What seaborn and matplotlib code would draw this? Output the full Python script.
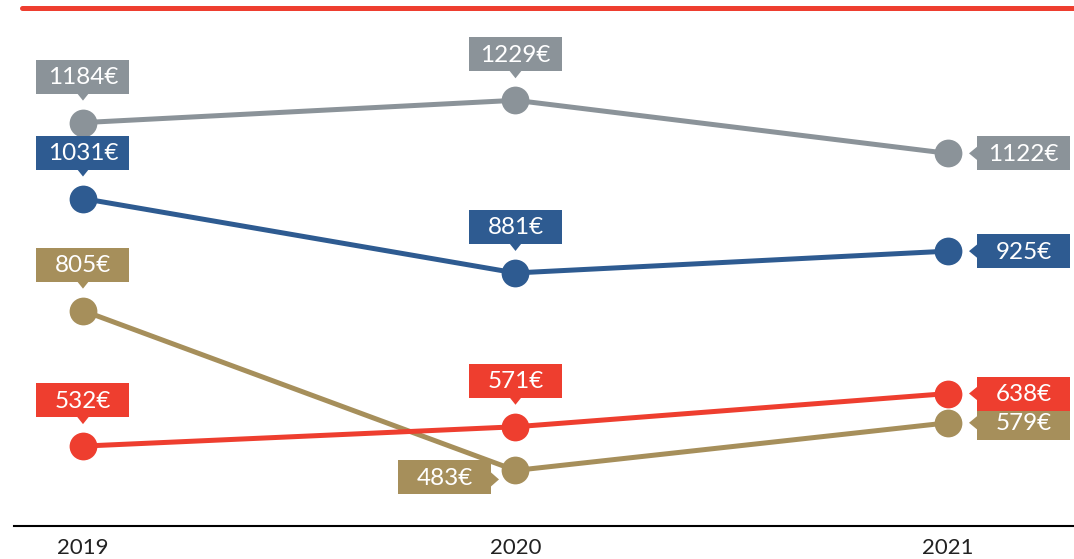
import matplotlib
matplotlib.use("Agg")
import matplotlib.pyplot as plt
import matplotlib.transforms as mtransforms
from matplotlib.patches import Rectangle, Polygon
from matplotlib.lines import Line2D
import seaborn as sns
import pandas as pd

# ---- data ----
years = ["2019", "2020", "2021"]
series_names = ["gray", "blue", "tan", "red"]
gray_values = [1184, 1229, 1122]
blue_values = [1031, 881, 925]
tan_values = [805, 483, 579]
red_values = [532, 571, 638]

colors = {"gray": "#8b9399", "blue": "#2e5b91", "tan": "#a68f5b", "red": "#ee3e2f"}
placements = {
    "gray": ["top", "top", "right"],
    "blue": ["top", "top", "right"],
    "tan": ["top", "left", "right"],
    "red": ["top", "top", "right"],
}

values = {"gray": gray_values, "blue": blue_values, "tan": tan_values, "red": red_values}
rows = []
for s in series_names:
    for y, v in zip(years, values[s]):
        rows.append({"year": y, "value": v, "series": s})
df = pd.DataFrame(rows)

sns.set_theme(style="white")
plt.rcParams["font.family"] = ["Lato", "DejaVu Sans"]

W, H = 1074, 559
fig = plt.figure(figsize=(W / 100, H / 100), dpi=100)
ax = fig.add_axes([14 / W, (H - 526) / H, 1 - 14 / W, (526 - 7.5) / H])

sns.lineplot(data=df, x="year", y="value", hue="series", hue_order=series_names,
             palette=colors, marker="o", markersize=20, markeredgewidth=0,
             linewidth=3.6, legend=False, ax=ax, sort=False)

ax.set_xlim(-0.1595, 2.2913)
ax.set_ylim(371, 1416)
ax.set_yticks([])
ax.set_xlabel("")
ax.set_ylabel("")
for sp in ["top", "left", "right"]:
    ax.spines[sp].set_visible(False)
ax.spines["bottom"].set_color("black")
ax.spines["bottom"].set_linewidth(1.5)
ax.tick_params(axis="x", length=0, pad=9, labelsize=16, labelcolor="#222222")
ax.set_xticks(range(len(years)))
ax.set_xticklabels(years)

# decorative red header line
fig.add_artist(Line2D([22 / W, 1.0], [1 - 7.5 / H, 1 - 7.5 / H],
                      transform=fig.transFigure, color=colors["red"], lw=3.6))

BW, BH = 0.93, 0.34  # box size in inches (px/100)

for s in series_names:
    for i, (v, place) in enumerate(zip(values[s], placements[s])):
        trans = fig.dpi_scale_trans + mtransforms.ScaledTranslation(i, v, ax.transData)
        c = colors[s]
        if place == "top":
            x0, y0 = -BW / 2, 0.29
            tri = [(-0.06, 0.295), (0.06, 0.295), (0.0, 0.22)]
        elif place == "right":
            x0, y0 = 0.29, -BH / 2
            tri = [(0.295, 0.07), (0.295, -0.07), (0.21, 0.0)]
        else:  # left
            x0, y0 = -0.24 - BW, -0.07 - BH / 2
            tri = [(-0.245, -0.02), (-0.245, -0.16), (-0.165, -0.09)]
        ax.add_patch(Rectangle((x0, y0), BW, BH, transform=trans, facecolor=c,
                               edgecolor="none", zorder=5, clip_on=False))
        ax.add_patch(Polygon(tri, closed=True, transform=trans, facecolor=c,
                             edgecolor="none", zorder=5, clip_on=False))
        ax.text(x0 + BW / 2, y0 + BH / 2 - 0.01, f"{v}€", transform=trans,
                ha="center", va="center", color="white", fontsize=17.5,
                fontweight="normal", zorder=6)

fig.savefig("out.png", dpi=100)
